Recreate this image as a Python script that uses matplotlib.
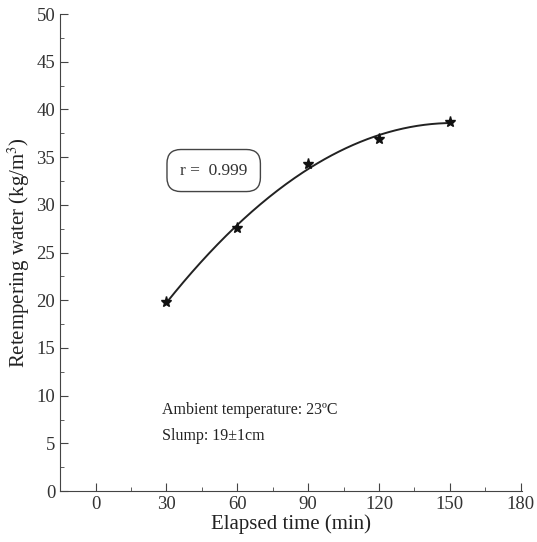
#!/usr/bin/env python

import numpy as np
import matplotlib.pyplot as plt
from matplotlib.ticker import MultipleLocator

plt.rcParams['font.family'] = ['Liberation Serif', 'DejaVu Serif']
plt.rcParams['mathtext.fontset'] = 'stix'

# data
elapsed = [30, 60, 90, 120, 150]
water = [19.8, 27.6, 34.3, 36.9, 38.7]
xticks = [0, 30, 60, 90, 120, 150, 180]

fig = plt.figure(figsize=(5.37, 5.42), dpi=100)
ax = fig.add_axes([0.112, 0.094, 0.86, 0.88])

# quadratic fit through the points
coef = np.polyfit(elapsed, water, 2)
xs = np.linspace(30, 150, 200)
ax.plot(xs, np.polyval(coef, xs), color='#222222', lw=1.4)
ax.plot(elapsed, water, ls='none', marker='*', ms=8, color='#111111')

ax.set_xlim(-15, 180.5)
ax.set_ylim(0, 50)
ax.set_xticks(xticks)
ax.xaxis.set_minor_locator(MultipleLocator(15))
ax.yaxis.set_major_locator(MultipleLocator(5))
ax.yaxis.set_minor_locator(MultipleLocator(2.5))
ax.tick_params(which='both', direction='in', colors='#444444', labelcolor='#333333', labelsize=13.5)
ax.tick_params(which='major', length=6)
ax.tick_params(which='minor', length=3)
for s in ['top', 'right']:
    ax.spines[s].set_visible(False)
for s in ['left', 'bottom']:
    ax.spines[s].set_color('#444444')

ax.set_xlabel('Elapsed time (min)', fontsize=15, color='#222222', labelpad=1)
ax.set_ylabel('Retempering water (kg/m$^3$)', fontsize=15, color='#222222', labelpad=3)

ax.text(50, 33.6, 'r =  0.999', ha='center', va='center', fontsize=12.5, color='#333333',
        bbox=dict(boxstyle='round,pad=0.75,rounding_size=0.8', fc='white', ec='#444444', lw=1))
ax.text(28, 8.5, 'Ambient temperature: 23ºC', fontsize=11.5, va='center', color='#222222')
ax.text(28, 5.8, 'Slump: 19±1cm', fontsize=11.5, va='center', color='#222222')

plt.savefig('out.png', dpi=100)
